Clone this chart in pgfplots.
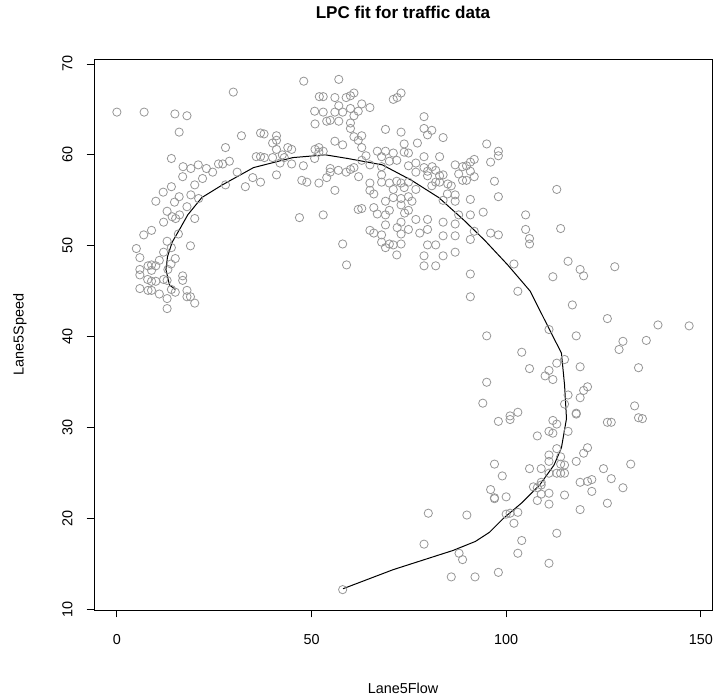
\documentclass[border=0pt]{standalone}
\usepackage{pgfplots}
\pgfplotsset{compat=1.18}
\usepackage{fontspec}
\setmainfont{Liberation Sans}
\definecolor{ptgray}{RGB}{150,150,150}
\pgfplotsset{every axis title shift=0pt}
\begin{document}
\begin{tikzpicture}
\path[use as bounding box] (0,0) rectangle (537pt,524.25pt);
\begin{axis}[
  at={(70.5pt,66.75pt)}, anchor=south west,
  scale only axis, width=463.5pt, height=413.25pt,
  xmin=-5.88, xmax=152.88, ymin=9.96, ymax=70.54,
  xtick={0,50,100,150}, ytick={10,20,30,40,50,60,70},
  tick align=outside, major tick length=5.5pt,
  xtick pos=bottom, ytick pos=left,
  tick style={black, line width=0.6pt},
  axis line style={black, line width=0.6pt},
  /pgf/number format/assume math mode=true,
  font=\fontsize{10.8pt}{13pt}\selectfont,
  ticklabel style={font=\fontsize{10.8pt}{13pt}\selectfont},
  xticklabel style={yshift=-9pt},
  yticklabel style={xshift=-7pt, rotate=90, anchor=south},
  title={LPC fit for traffic data},
  title style={at={(axis description cs:0.5,1.0853)}, anchor=center, font=\fontsize{12.8pt}{15pt}\selectfont\bfseries},
  xlabel={Lane5Flow},
  xlabel style={at={(axis description cs:0.5,-0.1416)}, anchor=center},
  ylabel={Lane5Speed},
  ylabel style={at={(axis description cs:-0.1197,0.5)}, anchor=center, rotate=0},
]
\addplot[only marks, mark=o, mark size=3.1pt, mark options={draw=ptgray, line width=0.6pt}] table {
x y
0 64.7
7 64.7
14.9 64.5
18 64.3
16 62.5
14 59.6
29.9 66.9
48 68.1
57 68.3
17.0 58.7
20.9 58.9
19.0 58.5
23.0 58.5
26.1 59.0
27.2 59.0
28.9 59.3
27.9 60.8
24.6 58.1
22.0 57.4
16.9 57.6
20 56.7
14 56.5
11.9 55.9
16 55.4
19 55.6
21 55.2
10 54.9
14.8 54.8
18 54.3
12.9 53.8
14.2 53.2
15.1 53.0
16.1 53.4
20 53.0
12 52.6
8.9 51.7
6.9 51.2
15.8 51.3
12.9 50.5
18.9 50.0
5 49.7
12 49.3
14 49.8
5.9 48.7
10.9 48.4
15 48.6
8 47.8
8.9 47.9
10 47.8
5.9 47.4
8.9 47.3
13.1 47.4
16.9 46.7
5.9 46.8
12 46.3
7.9 46.3
10 46.1
8.9 46.1
16.9 46.2
12.9 46.2
5.9 45.3
8 45.1
8.9 45.1
10.9 44.7
12.9 44.2
14 45.2
18 45.1
18 44.4
18.9 44.4
20 43.7
12.9 43.1
15 44.9
13.9 48.0
32.0 62.1
36.9 62.4
37.8 62.3
41 62.1
41 61.6
40 61.3
43.9 60.8
44.9 60.6
41 60.6
42.5 60.0
43 59.7
35.8 59.8
36.9 59.8
37.9 59.7
40 59.7
41.9 59.1
44.9 59.0
47.9 58.8
50.9 60.6
51.9 60.8
51.9 60.3
53 60.4
50.8 59.6
30.9 58.1
27.9 56.7
33 56.5
34.9 57.5
36.9 57.0
41 57.8
47.5 57.2
48.8 57.0
51.9 56.9
53.9 57.5
54.8 58.1
54.8 58.5
56.9 58.3
58.9 58.1
60 58.4
60.9 58.6
62.1 57.6
56 56.1
46.9 53.1
53 53.4
58 50.2
59 47.9
50.8 64.8
50.9 63.4
52 66.4
53 66.4
53 64.7
53.9 63.7
54.8 63.8
56 64.7
56 66.3
57 65.4
57 63.7
58 64.7
58.9 66.3
60 65.1
60 66.5
60.9 66.8
60 63.5
60 62.9
60.9 64.3
62 64.8
62.9 65.6
65 65.2
58 61.1
56 61.5
60.9 62.0
62 61.6
62.9 62.1
62.9 60.8
64 59.9
65 58.9
62.9 59.4
71 66.1
72 66.3
73 66.8
73 62.5
69 62.8
78.9 64.2
78.9 62.9
79.8 62.2
80.9 62.7
83.8 61.9
77.2 61.3
73.8 61.2
74.9 60.2
73.8 60.3
66.9 60.4
69 60.4
68 59.8
71 60.2
71.9 59.4
70 59.3
68 58.7
74.9 58.8
76.8 59.1
78.9 59.8
76.8 58.1
78.9 58.6
79.8 58.2
81 58.7
82.9 59.8
81.9 58.3
79.8 57.7
82.9 57.7
83.8 57.8
81.9 57.0
80.9 56.6
82.9 57.0
85 56.8
85.9 56.6
86.9 58.9
88.8 58.7
89.8 58.8
90.8 59.2
91.8 59.5
87.8 57.9
88.8 57.2
89.8 57.2
91.8 57.6
90.8 58.2
95 61.2
98 60.4
98 59.9
96 59.2
97 57.1
98 55.4
94.1 53.7
96 51.4
98 51.2
90.8 55.1
90.8 53.4
91.8 51.6
90.8 50.7
90.8 46.9
90.8 44.4
87.8 53.4
86.9 52.4
86.9 51.1
86.9 49.3
86.9 54.9
86.9 55.6
84.9 55.7
83.8 55.0
83.8 52.6
83.8 51.1
83.8 48.9
81.9 50.1
79.8 50.1
79.8 51.8
79.8 52.9
78.9 48.9
78.9 47.8
81.9 47.8
77.8 51.4
76.8 52.9
74.9 51.8
73.9 53.6
74.9 53.9
75.8 54.9
74.9 55.4
76.8 56.2
73.8 56.4
74.9 57.0
73 56.9
71.9 57.1
70 56.9
71 56.2
68 57.0
68 57.8
65 56.9
65 56.1
66 55.7
69 54.9
71 55.3
73 55.2
73 54.5
70 53.9
66 54.2
62.9 54.1
62 54.0
66.9 53.5
69 53.4
73 52.6
72 52.0
69 52.3
73 51.3
65 51.7
66 51.4
68 51.2
68 50.4
69 49.8
70 50.2
71 50.1
73 50.2
71.9 49.0
113 56.2
105 53.4
105 51.8
106 50.8
106 50.2
114 51.9
102 48.0
115.9 48.3
119 47.4
119.9 46.7
112 46.6
127.9 47.7
103 45.0
117 43.5
126 42.0
139 41.3
147 41.2
111 40.8
95 40.1
118 40.1
130 39.5
129 38.6
136 39.6
104 38.3
115 37.5
113 37.1
106 36.5
119 36.7
134 36.6
111 36.3
110 35.7
112 35.3
95 35.0
120.9 34.5
119.9 34.1
119 33.3
115.9 33.6
115 32.6
94 32.7
133 32.4
103 31.7
101 31.3
101 30.9
98 30.7
118 31.6
118 31.5
112 30.8
113 30.4
134 31.1
135 31.0
126 30.6
127 30.6
115.9 29.6
111 29.6
112 29.4
108 29.1
113 27.7
120.9 27.8
119.9 27.2
111 27.0
114 26.8
111 26.3
118 26.3
114 26.0
115 25.9
97 26.0
132 26.0
106 25.5
109 25.5
125 25.5
111 25.0
113 25.0
114 25.0
115 25.0
99 24.7
127 24.4
120.9 24.1
122 24.3
119 24.0
109 24.0
107 23.5
108 23.4
109 23.7
96 23.2
130 23.4
122 23.0
115 22.6
109 22.7
111 22.8
97 22.2
97 22.3
100 22.4
108 22.0
111 21.6
126 21.7
119 21.0
100 20.5
101 20.6
103 20.7
80 20.6
89.9 20.4
102 19.5
113 18.4
104 17.6
78.9 17.2
87.9 16.2
103 16.2
88.8 15.5
111 15.1
98 14.1
85.9 13.6
92 13.6
58 12.2
};
\addplot[black, line width=0.75pt, mark=none] table {
x y
15 45.2
13.5 45.7
12.6 47.4
13 48.8
14.2 50.4
16.1 51.8
18.2 53.4
21.8 55.3
27.1 56.7
35.1 58.6
45.2 59.7
53.6 60.0
59.3 59.6
68.2 58.9
75.7 57.2
82.7 55.3
89.2 52.8
94.5 50.6
100.4 47.9
106.2 45.0
110.3 41.5
114.2 38.2
115 34.7
115.5 31.0
114.2 27.8
112.3 25.9
108.6 23.7
103.9 21.7
99.2 20.0
95.7 18.5
92.1 17.5
86.3 16.5
71 14.4
58.1 12.3
};
\end{axis}
\end{tikzpicture}
\end{document}
